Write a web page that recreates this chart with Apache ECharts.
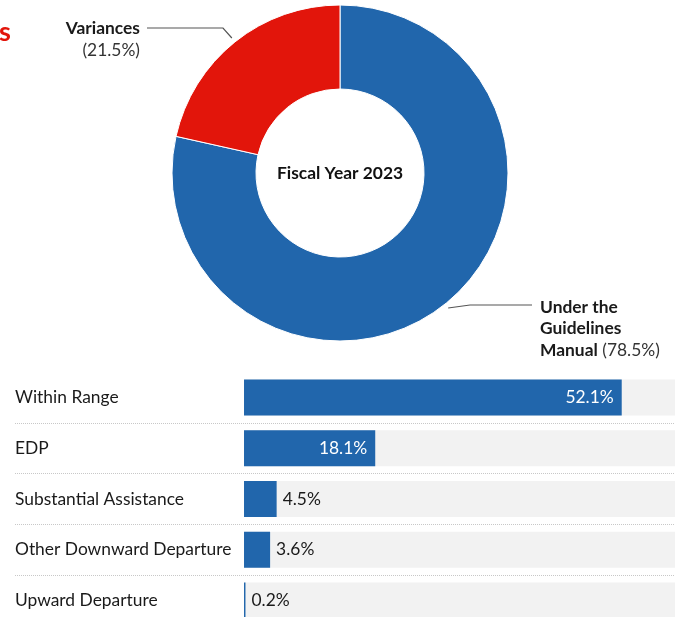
<!DOCTYPE html>
<html><head><meta charset="utf-8">
<script src="https://cdn.jsdelivr.net/npm/echarts@6/dist/echarts.min.js"></script>
<style>html,body{margin:0;padding:0;background:#fff;overflow:hidden}#c{width:675px;height:626px}</style>
</head><body><div id="c"></div>
<script>
const pieNames = ["Under the\nGuidelines\nManual", "Variances"];
const pieValues = [78.5, 21.5];
const pieColors = ["#2166ac", "#e2150b"];
const centerLabel = "Fiscal Year 2023";
const barCategories = ["Within Range", "EDP", "Substantial Assistance", "Other Downward Departure", "Upward Departure"];
const barValues = [52.1, 18.1, 4.5, 3.6, 0.2];

const FONT = 'Lato, "Noto Sans", sans-serif';
const FS = 17.4;
const axisMin = -31.59, axisMax = 59.45;
const CX = 340, CY = 173, R_IN = 84, R_OUT = 168;

function pushOut(p, d) {
  const dx = p[0] - CX, dy = p[1] - CY, r = Math.sqrt(dx * dx + dy * dy);
  return [CX + dx * (r + d) / r, CY + dy * (r + d) / r];
}

const chart = echarts.init(document.getElementById('c'), null, {renderer: 'canvas'});
chart.setOption({
  animation: false,
  textStyle: {fontFamily: FONT},
  graphic: [
    {type: 'text', left: -1, top: 19, style: {text: 's', fill: '#e2150b', font: 'bold 27px ' + FONT}},
    {type: 'text', x: CX, y: CY, style: {text: centerLabel, fill: '#111', font: 'bold ' + FS + 'px ' + FONT, textAlign: 'center', textVerticalAlign: 'middle'}, z: 10}
  ],
  grid: {left: 15, right: 0, top: 372, bottom: 0},
  xAxis: {type: 'value', min: axisMin, max: axisMax, show: false},
  yAxis: {
    type: 'category', inverse: true, data: barCategories,
    axisLine: {show: false}, axisTick: {show: false},
    axisLabel: {inside: true, margin: 0, color: '#1a1a1a', fontSize: FS, fontFamily: FONT},
    splitLine: {show: true, interval: function (i) { return i > 0; }, lineStyle: {type: 'dotted', color: '#c8c8c8', width: 1}}
  },
  series: [
    {
      type: 'pie', center: [CX, CY], radius: [R_IN, R_OUT], startAngle: 90, clockwise: true,
      silent: true, emphasis: {disabled: true},
      itemStyle: {borderColor: '#fff', borderWidth: 1},
      data: pieNames.map((n, i) => ({name: n, value: pieValues[i], itemStyle: {color: pieColors[i]}})),
      label: {
        show: true, position: 'outside', fontFamily: FONT,
        formatter: function (p) {
          const lines = p.name.split('\n').map(l => '{b|' + l + '}');
          if (p.dataIndex === 0) return lines.join('\n') + '{n|\u00a0(' + p.value + '%)}';
          return lines.join('\n') + '\n{n|(' + p.value + '%)}';
        },
        rich: {
          b: {fontWeight: 'bold', fontSize: FS, color: '#1a1a1a', lineHeight: 21.5, fontFamily: FONT},
          n: {fontSize: FS, color: '#333', lineHeight: 21.5, fontFamily: FONT}
        }
      },
      labelLine: {show: true, length: 10, length2: 60, lineStyle: {color: '#555', width: 1.2}},
      labelLayout: function (params) {
        const p0 = params.labelLinePoints ? pushOut(params.labelLinePoints[0], 5) : null;
        if (params.dataIndex === 1) {
          return {x: 140, y: 39.5, align: 'right', verticalAlign: 'middle',
            labelLinePoints: [p0 || [232, 38], [223, 28], [147, 28]]};
        }
        return {x: 540, y: 328.5, align: 'left', verticalAlign: 'middle',
          labelLinePoints: [p0 || [447, 308], [470, 305], [532, 305]]};
      }
    },
    {
      type: 'bar', silent: true, barWidth: 36, barGap: '-100%', z: 1,
      itemStyle: {color: '#f2f2f2'},
      data: barCategories.map(() => axisMax)
    },
    {
      type: 'bar', silent: true, barWidth: 36, barGap: '-100%', z: 2,
      itemStyle: {color: '#2166ac'},
      data: barValues.map(v => ({
        value: v,
        label: v > 10
          ? {show: true, position: 'insideRight', distance: 8, color: '#fff', fontSize: FS, fontFamily: FONT, formatter: '{c}%'}
          : {show: true, position: 'right', distance: 6, color: '#1a1a1a', fontSize: FS, fontFamily: FONT, formatter: '{c}%'}
      }))
    }
  ]
});
</script></body></html>
